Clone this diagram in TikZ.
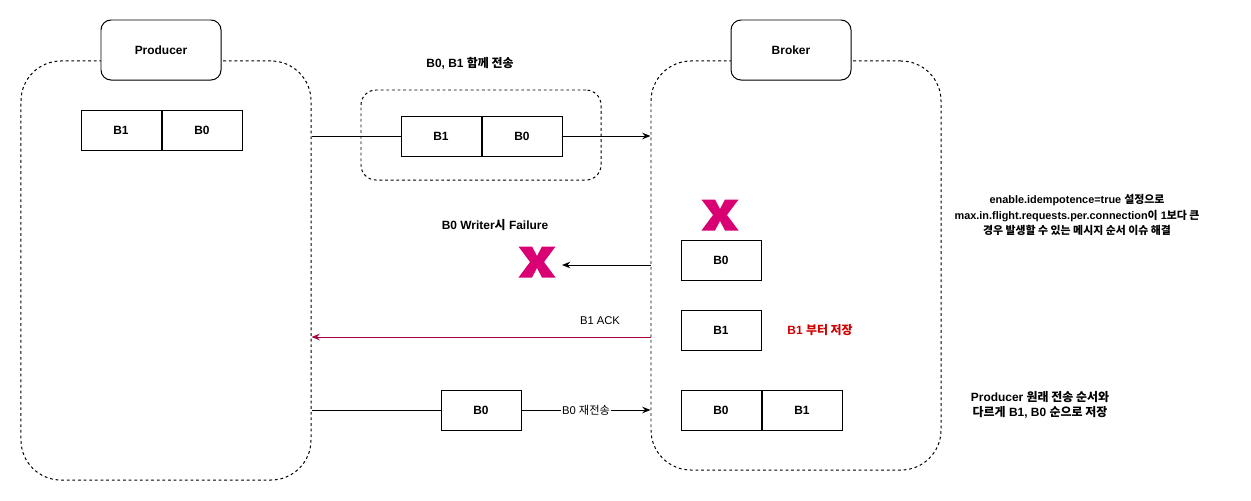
\documentclass[tikz,border=0pt]{standalone}
\usepackage{fontspec}
\setmainfont{Liberation Sans}
\newfontfamily\kr{Noto Sans CJK KR}
\usetikzlibrary{arrows.meta,positioning,calc}
\definecolor{xpink}{HTML}{D80073}
\definecolor{ackline}{HTML}{A50040}
\definecolor{savered}{HTML}{CC0000}
\newcommand\lblfont{\fontsize{10.2}{12.6}\selectfont\bfseries}
\newcommand\notefont{\fontsize{9.3}{13.2}\selectfont\bfseries}
\newcommand\smallfont{\fontsize{9.6}{11.5}\selectfont}

\begin{document}
\begin{tikzpicture}[x=0.03cm, y=-0.03cm, line width=0.85pt,
    groupbox/.style={draw, dash pattern=on 2.4pt off 2.4pt, rounded corners=1.2cm},
    titlebox/.style={draw, fill=white, rounded corners=0.3cm, minimum width=3.6cm, minimum height=1.8cm, font=\lblfont},
    batch/.style={draw, fill=white, minimum width=2.4cm, minimum height=1.2cm, inner sep=0pt, font=\lblfont},
    lbl/.style={font=\lblfont, align=center},
    edge/.style={-{Stealth[length=7pt,width=5.5pt]}}]
    \useasboundingbox (0,0) rectangle (1251,501);

    % Producer
    \node[groupbox, minimum width=8.7cm, minimum height=12.57cm] (prodgrp) at (166,270.5) {};
    \node[titlebox] (prodtitle) at (161,50) {Producer};
    \node[batch] (pb1) at (121,130) {B1};
    \node[batch, right=0pt of pb1] (pb0) {B0};

    % Broker
    \node[groupbox, minimum width=8.7cm, minimum height=12.27cm] (brkgrp) at (796,265.5) {};
    \node[titlebox] (brktitle) at (791,50) {Broker};

    % Batch in flight
    \node[groupbox, rounded corners=0.45cm, minimum width=7.2cm, minimum height=2.7cm] (flight) at (481,135) {};
    \node[batch] (mb1) at (441,136) {B1};
    \node[batch, right=0pt of mb1] (mb0) {B0};
    \node[lbl] (flighttxt) at (470,63) {B0, B1 {\kr 함께 전송}};
    \draw (mb1.west -| prodgrp.east) -- (mb1.west);
    \draw[edge] (mb0.east) -- (mb0.east -| brkgrp.west);

    % Failure of B0
    \coordinate (lostx) at (720,215);
    \coordinate (failx) at (537,262);
    \coordinate (failtip) at (562,265);
    \foreach \c in {lostx, failx} {
        \fill[xpink, shift={(\c)}] (-18.5,-15.5) -- (-5,-15.5) -- (0,-6) -- (5,-15.5) -- (18.5,-15.5)
            -- (7,0) -- (18.5,15.5) -- (5,15.5) -- (0,6) -- (-5,15.5) -- (-18.5,15.5) -- (-7,0) -- cycle;
    }
    \node[batch] (bk0) at (721,260) {B0};
    \node[batch] (bk1) at (721,330) {B1};
    \draw[edge] (failtip -| brkgrp.west) -- (failtip);
    \node[lbl] (failtxt) at (495,225) {B0 Writer{\kr 시} Failure};

    % B1 ACK
    \coordinate (ackfrom) at (651,337);
    \draw[edge, ackline] (ackfrom) -- (ackfrom -| prodgrp.east);
    \node[font=\smallfont] (acktxt) at (600,321) {B1 ACK};
    \node[lbl, text=savered, anchor=west] (savetxt) at (783,330) {B1 {\kr 부터 저장}};

    % Resend of B0
    \node[batch] (rb0) at (481,410) {B0};
    \node[batch] (sb0) at (721,410) {B0};
    \node[batch, right=0pt of sb0] (sb1) {B1};
    \draw (rb0 -| prodgrp.east) -- (rb0.west);
    \draw[edge] (rb0.east) -- node[fill=white, inner sep=1pt, font=\smallfont] (resendtxt) {B0 {\kr 재전송}} (rb0.east -| brkgrp.west);

    % Notes
    \node[font=\notefont, align=center] (note1) at (1077,215) {enable.idempotence=true {\kr 설정으로}\\
        max.in.flight.requests.per.connection{\kr 이} 1{\kr 보다 큰}\\
        {\kr 경우 발생할 수 있는 메시지 순서 이슈 해결}};
    \node[lbl] (note2) at (1040,405) {Producer {\kr 원래 전송 순서와}\\
        {\kr 다르게} B1, B0 {\kr 순으로 저장}};
\end{tikzpicture}
\end{document}
